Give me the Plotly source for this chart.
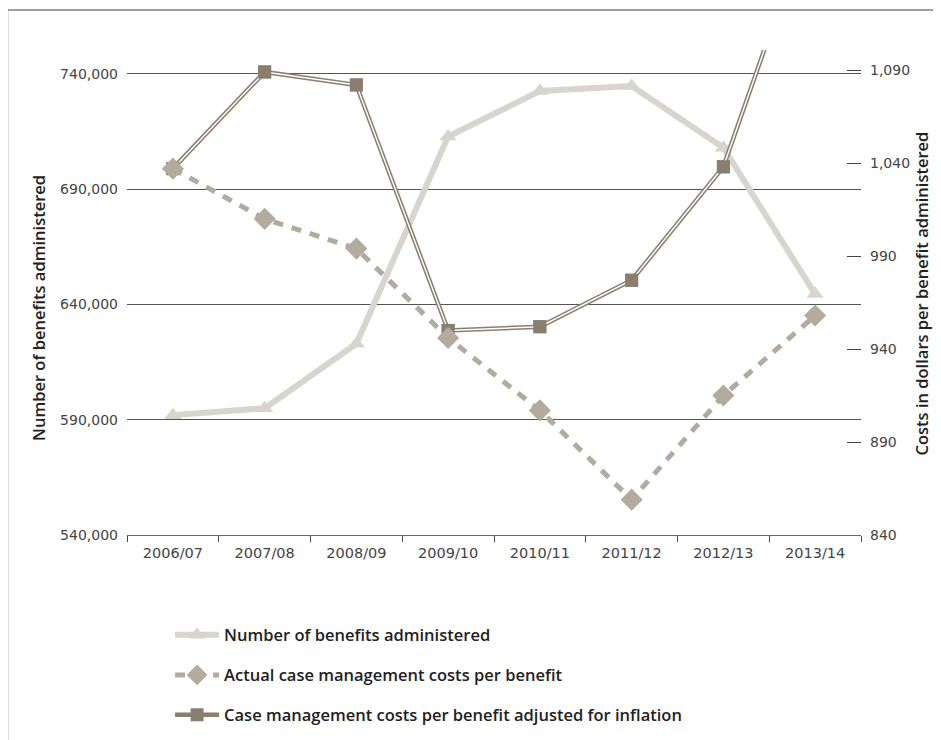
import plotly.graph_objects as go

# ---- data ----
years = ["2006/07", "2007/08", "2008/09", "2009/10", "2010/11", "2011/12", "2012/13", "2013/14"]
benefits = [592000, 595000, 623000, 712900, 732600, 734800, 708000, 644500]
actual_costs = [1037, 1010, 994, 946, 907, 859, 915, 958]
adjusted_costs = [1037, 1089, 1082, 950, 952, 977, 1038, 1179]

left_ticks = [540000, 590000, 640000, 690000, 740000]
right_ticks = [840, 890, 940, 990, 1040, 1090]

name_benefits = "Number of benefits administered"
name_actual = "Actual case management costs per benefit"
name_adjusted = "Case management costs per benefit adjusted for inflation"

C_LIGHT = "#d8d4ce"
C_MID = "#b3ab9e"
C_DARK = "#8a7f6e"

FONT = "Open Sans"
TICKFONT = "DejaVu Sans"

fig = go.Figure()

# inflation adjusted: double line (dark wide line with white core)
fig.add_trace(go.Scatter(
    x=years, y=adjusted_costs, yaxis="y2", name=name_adjusted, legend="legend3",
    mode="lines+markers", line=dict(color=C_DARK, width=4.5),
    marker=dict(symbol="square", size=13, color=C_DARK),
))
fig.add_trace(go.Scatter(
    x=years, y=adjusted_costs, yaxis="y2", showlegend=False, hoverinfo="skip",
    mode="lines", line=dict(color="white", width=1.4),
))
fig.add_trace(go.Scatter(
    x=years, y=adjusted_costs, yaxis="y2", showlegend=False, hoverinfo="skip",
    mode="markers", marker=dict(symbol="square", size=13, color=C_DARK),
))

# actual costs: dashed
fig.add_trace(go.Scatter(
    x=years, y=actual_costs, yaxis="y2", name=name_actual, legend="legend2",
    mode="lines+markers", line=dict(color=C_MID, width=5, dash="10px,9px"),
    marker=dict(symbol="diamond", size=17, color=C_MID),
))

# number of benefits
fig.add_trace(go.Scatter(
    x=years, y=benefits, yaxis="y", name=name_benefits, legend="legend",
    mode="lines+markers", line=dict(color=C_LIGHT, width=6),
    marker=dict(symbol="triangle-up", size=15, color=C_LIGHT),
))

legend_font = dict(family=FONT, size=16.5, color="#222", weight=600)
leg_common = dict(font=legend_font, bgcolor="rgba(0,0,0,0)", borderwidth=0,
                  itemwidth=44, xanchor="left", yanchor="middle", x=0.0587)

fig.update_layout(
    width=933, height=732,
    margin=dict(l=119, r=80, t=42, b=205, autoexpand=False),
    paper_bgcolor="white", plot_bgcolor="white",
    font=dict(family=TICKFONT, size=14, color="#444"),
    xaxis=dict(
        type="category", range=[-0.5, 7.5], tickson="boundaries",
        ticks="outside", ticklen=6, tickcolor="#444", tickwidth=1,
        showline=True, linecolor="#666", linewidth=1.3,
        showgrid=False, tickfont=dict(family=TICKFONT, size=14.5, color="#444"),
        ticklabelstandoff=4,
    ),
    yaxis=dict(
        range=[540000, 750400], tickvals=left_ticks, tickformat=",",
        showgrid=True, gridcolor="#555", gridwidth=1, zeroline=False,
        showline=False, ticks="", ticklen=0,
        tickfont=dict(family=TICKFONT, size=14, color="#444"),
        ticklabelstandoff=8,
    ),
    yaxis2=dict(
        overlaying="y", side="right", range=[840, 1100.8], tickvals=right_ticks,
        tickformat=",", showgrid=False, zeroline=False, showline=False,
        ticks="inside", ticklen=14, tickcolor="#444", tickwidth=1.2,
        tickfont=dict(family=TICKFONT, size=14, color="#444"), ticklabelstandoff=8,
    ),
    legend=dict(y=-0.206, **leg_common),
    legend2=dict(y=-0.289, **leg_common),
    legend3=dict(y=-0.371, **leg_common),
    annotations=[
        dict(text="Number of benefits administered", xref="paper", yref="paper",
             x=-0.1213, y=0.468, textangle=-90, showarrow=False,
             xanchor="center", yanchor="middle",
             font=dict(family=FONT, size=16.5, color="#222", weight=600)),
        dict(text="Costs in dollars per benefit administered", xref="paper", yref="paper",
             x=1.0825, y=0.497, textangle=-90, showarrow=False,
             xanchor="center", yanchor="middle",
             font=dict(family=FONT, size=16.5, color="#222", weight=600)),
    ],
    shapes=[
        dict(type="line", xref="paper", yref="paper", x0=-0.1628, x1=1.13,
             y0=1.0825, y1=1.0825, line=dict(color="#808080", width=1.5)),
        dict(type="line", xref="paper", yref="paper", x0=-0.1628, x1=-0.1628,
             y0=1.0825, y1=-0.45, line=dict(color="#808080", width=1.5)),
    ],
    showlegend=True,
)

fig.write_html("out.html")
